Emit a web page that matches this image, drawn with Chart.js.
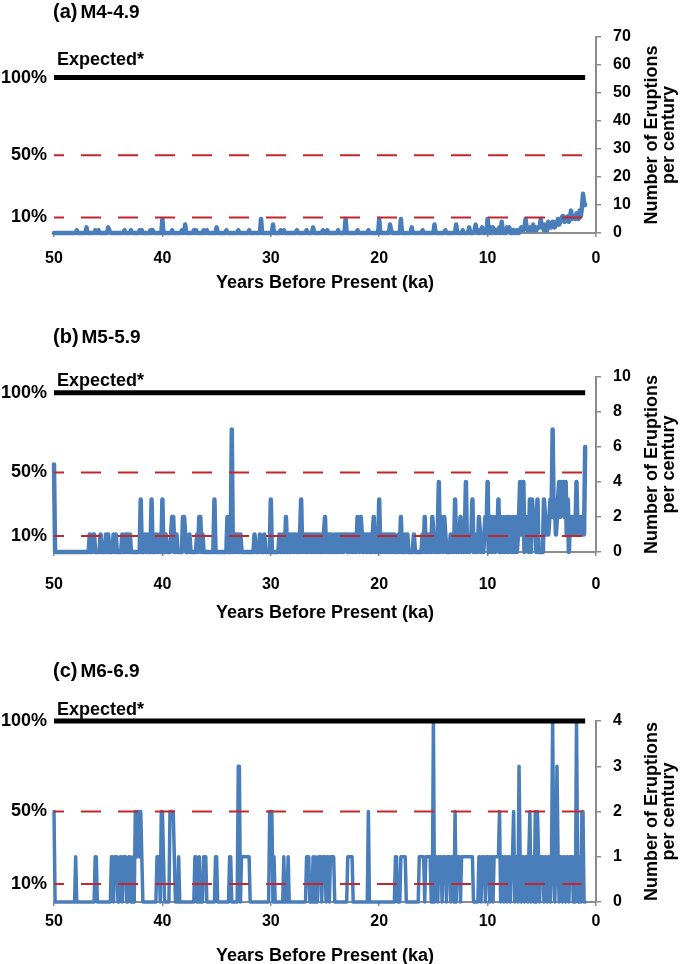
<!DOCTYPE html>
<html>
<head>
<meta charset="utf-8">
<script src="https://cdn.jsdelivr.net/npm/chart.js@4/dist/chart.umd.min.js"></script>
<style>
html,body{margin:0;padding:0;background:#fff;overflow:hidden;width:685px;height:964px;}
.panel{position:absolute;left:0;width:685px;overflow:hidden;}
canvas{display:block;}
</style>
</head>
<body>
<div class="panel" style="top:0;height:300px"><canvas id="cA" width="685" height="300"></canvas></div>
<div class="panel" style="top:300px;height:330px"><canvas id="cB" width="685" height="330"></canvas></div>
<div class="panel" style="top:630px;height:334px"><canvas id="cC" width="685" height="340"></canvas></div>
<script>
// ---- data (one value per century, from 50.0 ka down to 1.0 ka) ----
const KA_START = 50;
const KA_STEP = 0.1;
const xTicks = [50, 40, 30, 20, 10, 0];
const pctFractions = [0.1, 0.5, 1];
const pctLabels = ['10%', '50%', '100%'];
const panelLetters = ['(a)', '(b)', '(c)'];
const magnitudeClasses = ['M4-4.9', 'M5-5.9', 'M6-6.9'];
const expectedRates = [55.5, 9.1, 4];
const rightAxisMax = [70, 10, 4];
const rightAxisStep = [10, 2, 1];

const eruptionsM4 = [
/*50*/ 0,0,0,0,0,0,0,0,0,0,
/*49*/ 0,0,0,0,0,0,0,0,0,0,
/*48*/ 0,1,0,0,0,0,0,0,0,0,
/*47*/ 2,0,0,0,0,0,0,0,1,0,
/*46*/ 0,1,0,0,0,0,0,0,0,0,
/*45*/ 2,1,0,0,0,0,0,0,0,0,
/*44*/ 0,0,0,0,0,1,0,0,0,0,
/*43*/ 0,1,0,0,0,0,0,0,0,1,
/*42*/ 0,1,0,0,0,0,0,0,0,1,
/*41*/ 0,1,0,0,0,0,0,0,0,0,
/*40*/ 5,0,0,0,0,0,0,0,0,1,
/*39*/ 0,0,0,0,0,0,0,0,1,0,
/*38*/ 0,3,0,0,0,0,0,0,0,1,
/*37*/ 0,1,0,0,0,0,0,0,1,0,
/*36*/ 0,1,0,0,0,0,0,0,0,0,
/*35*/ 2,0,0,0,0,0,0,0,0,1,
/*34*/ 0,0,0,0,0,0,0,0,0,0,
/*33*/ 1,0,0,0,0,0,0,0,0,0,
/*32*/ 1,0,0,0,0,0,0,0,0,0,
/*31*/ 0,5,0,0,0,0,0,0,0,0,
/*30*/ 0,0,3,0,0,0,0,0,0,1,
/*29*/ 0,0,1,0,0,0,0,0,0,0,
/*28*/ 0,0,0,0,1,0,0,0,0,0,
/*27*/ 0,0,0,1,0,0,0,0,0,2,
/*26*/ 0,0,0,0,0,0,0,0,1,0,
/*25*/ 0,0,1,0,0,0,0,0,0,0,
/*24*/ 0,0,1,0,0,0,0,0,0,5,
/*23*/ 0,0,0,0,0,0,0,0,0,0,
/*22*/ 1,0,0,0,0,0,0,0,0,0,
/*21*/ 1,0,0,0,0,0,0,0,0,0,
/*20*/ 5,0,0,0,0,0,0,0,0,0,
/*19*/ 3,1,0,0,0,0,0,0,0,0,
/*18*/ 5,0,0,0,0,0,0,0,0,0,
/*17*/ 2,0,0,0,0,0,0,0,0,0,
/*16*/ 1,0,0,0,0,0,0,0,0,0,
/*15*/ 0,3,0,0,0,0,0,0,0,0,
/*14*/ 0,1,0,0,0,0,0,0,0,0,
/*13*/ 0,3,0,0,0,0,0,1,0,0,
/*12*/ 0,0,0,2,0,0,0,0,1,3,
/*11*/ 0,1,0,0,1,2,0,0,1,0,
/*10*/ 5,1,0,2,0,2,1,0,1,0,
/* 9*/ 1,2,0,4,1,0,1,0,2,1,
/* 8*/ 2,0,1,0,1,0,0,1,0,0,
/* 7*/ 1,2,1,1,2,5,2,1,2,1,
/* 6*/ 2,1,3,1,2,1,2,2,2,5,
/* 5*/ 2,3,1,3,2,1,4,2,3,2,
/* 4*/ 4,3,2,4,3,5,3,4,5,6,
/* 3*/ 6,4,5,5,6,4,6,8,5,6,
/* 2*/ 6,5,7,6,5,8,6,9,14,11,
/* 1*/ 10
];

const eruptionsM5 = [
/*50*/ 5,0,0,0,0,0,0,0,0,0,
/*49*/ 0,0,0,0,0,0,0,0,0,0,
/*48*/ 0,0,0,0,0,0,0,0,0,0,
/*47*/ 0,0,0,1,0,0,1,1,0,0,
/*46*/ 0,0,0,1,0,0,0,0,1,0,
/*45*/ 1,0,0,0,0,1,0,1,0,0,
/*44*/ 0,0,0,1,0,0,1,0,1,0,
/*43*/ 1,0,0,0,0,0,0,0,0,0,
/*42*/ 3,0,0,0,1,0,1,0,0,0,
/*41*/ 3,0,0,0,1,0,0,1,0,0,
/*40*/ 3,0,0,1,0,0,0,0,1,2,
/*39*/ 2,0,0,1,0,0,0,0,0,2,
/*38*/ 2,1,0,0,0,1,0,0,0,0,
/*37*/ 0,0,1,0,2,2,0,1,0,0,
/*36*/ 0,0,0,0,0,0,0,0,3,0,
/*35*/ 0,0,0,0,0,0,0,0,0,0,
/*34*/ 2,0,0,0,7,0,0,1,1,0,
/*33*/ 1,0,1,0,0,0,0,0,0,0,
/*32*/ 0,0,0,0,0,1,0,0,0,0,
/*31*/ 1,0,0,0,1,0,0,0,0,0,
/*30*/ 3,0,0,0,0,0,0,0,1,0,
/*29*/ 0,1,0,0,2,0,0,1,0,1,
/*28*/ 1,0,1,1,0,1,0,1,3,0,
/*27*/ 1,1,0,1,0,1,1,0,1,0,
/*26*/ 1,0,1,0,1,0,0,1,0,1,
/*25*/ 2,0,1,0,1,0,1,0,0,1,
/*24*/ 0,1,0,1,1,0,1,0,1,1,
/*23*/ 1,0,1,1,0,1,0,1,1,0,
/*22*/ 2,1,0,2,1,0,1,1,0,1,
/*21*/ 1,0,1,0,1,2,0,1,1,0,
/*20*/ 3,0,1,0,1,1,0,1,0,1,
/*19*/ 1,0,1,0,1,0,0,0,1,0,
/*18*/ 2,0,0,0,1,0,1,0,0,0,
/*17*/ 0,0,1,0,0,0,0,0,0,0,
/*16*/ 1,0,2,0,1,0,1,1,0,2,
/*15*/ 1,0,1,0,1,4,0,2,1,0,
/*14*/ 2,1,0,0,0,0,1,0,1,0,
/*13*/ 3,0,1,0,1,2,0,1,0,1,
/*12*/ 4,0,1,0,1,1,3,0,1,0,
/*11*/ 1,0,2,1,0,1,0,1,2,1,
/*10*/ 4,0,1,2,0,2,1,0,2,1,
/* 9*/ 3,0,2,0,1,2,0,1,2,0,
/* 8*/ 2,1,0,2,0,1,2,0,1,2,
/* 7*/ 4,1,2,4,0,2,1,2,0,3,
/* 6*/ 0,3,2,1,2,0,3,0,0,0,
/* 5*/ 0,0,3,2,1,2,1,2,3,2,
/* 4*/ 7,2,3,1,2,3,4,2,4,3,
/* 3*/ 4,2,4,1,3,0,2,1,2,1,
/* 2*/ 2,1,4,1,2,1,2,1,2,1,
/* 1*/ 6
];

const eruptionsM6 = [
/*50*/ 2,0,0,0,0,0,0,0,0,0,
/*49*/ 0,0,0,0,0,0,0,0,0,0,
/*48*/ 1,0,0,0,0,0,0,0,0,0,
/*47*/ 0,0,0,0,0,0,0,0,1,1,
/*46*/ 0,0,0,0,0,0,0,0,0,0,
/*45*/ 0,0,0,1,1,0,1,1,1,0,
/*44*/ 0,1,1,0,1,1,1,0,0,1,
/*43*/ 1,0,0,1,0,2,2,1,2,1,
/*42*/ 2,1,0,0,0,0,0,0,0,0,
/*41*/ 0,0,0,0,0,1,1,1,0,2,
/*40*/ 2,1,0,0,0,0,0,2,2,2,
/*39*/ 2,1,0,0,0,1,0,0,0,0,
/*38*/ 0,0,0,0,0,0,0,0,0,0,
/*37*/ 1,1,0,0,1,0,0,0,1,1,
/*36*/ 1,0,0,0,0,0,0,0,0,1,
/*35*/ 1,0,0,0,0,0,0,0,0,0,
/*34*/ 0,0,1,1,0,0,0,0,0,0,
/*33*/ 3,3,0,1,1,1,1,1,1,1,
/*32*/ 1,0,0,0,0,0,0,0,0,0,
/*31*/ 0,0,0,0,0,0,0,0,0,2,
/*30*/ 2,2,0,1,0,0,0,0,0,0,
/*29*/ 0,0,1,0,0,0,1,0,0,0,
/*28*/ 0,0,0,0,0,0,0,0,0,0,
/*27*/ 0,0,0,1,1,1,0,0,0,1,
/*26*/ 0,1,0,0,1,1,1,0,1,1,
/*25*/ 1,0,1,1,0,1,1,1,1,0,
/*24*/ 0,0,0,0,0,0,0,0,0,0,
/*23*/ 0,1,1,1,1,1,0,0,0,0,
/*22*/ 0,0,0,0,0,0,0,0,0,0,
/*21*/ 2,0,0,0,0,0,0,0,0,0,
/*20*/ 0,0,0,0,0,0,0,0,0,0,
/*19*/ 0,0,0,0,0,1,1,0,0,0,
/*18*/ 1,1,1,1,1,0,0,0,0,0,
/*17*/ 0,0,0,0,0,0,0,1,1,1,
/*16*/ 1,1,0,1,1,1,1,1,0,0,
/*15*/ 4,0,1,1,0,1,1,1,0,1,
/*14*/ 1,1,0,1,1,1,0,1,1,0,
/*13*/ 2,0,1,1,1,0,1,1,1,1,
/*12*/ 1,1,1,1,1,1,1,0,0,0,
/*11*/ 0,0,1,1,0,1,1,1,0,1,
/*10*/ 1,1,0,1,1,0,1,1,1,1,
/* 9*/ 1,2,0,1,1,0,1,1,0,1,
/* 8*/ 1,0,1,1,2,0,1,1,0,3,
/* 7*/ 1,0,1,1,0,1,1,0,1,2,
/* 6*/ 0,1,1,0,2,0,2,1,0,1,
/* 5*/ 1,1,0,1,1,0,1,1,0,1,
/* 4*/ 4,1,0,1,3,1,0,1,1,0,
/* 3*/ 1,1,0,1,1,0,1,1,1,0,
/* 2*/ 1,0,4,1,0,1,0,2,2,0,
/* 1*/ 0
];

// ---- styling / layout ----
const FONT = '"Liberation Sans", Arial, Helvetica, sans-serif';
const BLUE = '#4a7ebb';
const RED = '#c1272d';
const GRAY = '#8c8c8c';
Chart.defaults.font.family = FONT;
Chart.defaults.color = '#000';

const layouts = [
  {canvas:'cA', top:37, xH:67, xPad:12, titlePad:6, lw:4.5, titleBase:18, expOff:-13},
  {canvas:'cB', top:77, xH:78, xPad:19, titlePad:6, lw:4.5, titleBase:43, expOff:-7},
  {canvas:'cC', top:91, xH:68, xPad:6, titlePad:3, lw:3.5, titleBase:47, expOff:-6}
];

const panelText = {
  id: 'panelText',
  afterDraw(chart, args, o) {
    const ctx = chart.ctx, ca = chart.chartArea, ys = chart.scales.y;
    ctx.save();
    ctx.fillStyle = '#000';
    ctx.textAlign = 'left';
    ctx.textBaseline = 'alphabetic';
    ctx.font = 'bold 20px ' + FONT;
    ctx.fillText(o.letter, 53, o.titleBase);
    const w = ctx.measureText(o.letter).width;
    ctx.font = 'bold 19px ' + FONT;
    ctx.fillText(o.mag, 53 + w + 3, o.titleBase);
    ctx.font = 'bold 18px ' + FONT;
    ctx.fillText('Expected*', 57, ys.getPixelForValue(o.expected) + o.expOff);
    const cy = (ca.top + ca.bottom) / 2;
    ctx.textAlign = 'center';
    ctx.textBaseline = 'middle';
    [['Number of Eruptions', 652.5], ['per century', 669]].forEach(([t, x]) => {
      ctx.save();
      ctx.translate(x, cy);
      ctx.rotate(-Math.PI / 2);
      ctx.fillText(t, 0, 0);
      ctx.restore();
    });
    ctx.restore();
  }
};

const seriesList = [eruptionsM4, eruptionsM5, eruptionsM6];

seriesList.forEach((values, k) => {
  const L = layouts[k];
  const E = expectedRates[k];
  const pts = values.map((v, i) => ({x: Math.round((KA_START - i * KA_STEP) * 10) / 10, y: v}));
  const xEnd = pts[pts.length - 1].x;
  const level = f => [{x: KA_START, y: E * f}, {x: xEnd, y: E * f}];
  new Chart(document.getElementById(L.canvas), {
    type: 'line',
    data: {
      datasets: [
        {data: level(1), borderColor: '#000', borderWidth: 5, yAxisID: 'y', clip: false},
        {data: level(0.5), borderColor: RED, borderWidth: 2, borderDash: [20, 17], borderDashOffset: 10, yAxisID: 'y'},
        {data: level(0.1), borderColor: RED, borderWidth: 2, borderDash: [20, 17], borderDashOffset: 10, yAxisID: 'y'},
        {data: pts, borderColor: BLUE, borderWidth: L.lw, borderJoinStyle: 'round', borderCapStyle: 'round', yAxisID: 'y', clip: 4}
      ]
    },
    options: {
      responsive: false,
      animation: false,
      events: [],
      elements: {point: {radius: 0}, line: {tension: 0}},
      layout: {padding: {top: L.top, left: 0, right: 0, bottom: 0}},
      plugins: {
        legend: {display: false},
        tooltip: {enabled: false},
        panelText: {letter: panelLetters[k], mag: magnitudeClasses[k], expected: E, titleBase: L.titleBase, expOff: L.expOff}
      },
      scales: {
        x: {
          type: 'linear', position: 'bottom', reverse: true, min: 0, max: 50,
          afterBuildTicks: s => { s.ticks = xTicks.map(v => ({value: v})); },
          ticks: {font: {size: 16, weight: 'bold'}, color: '#000', padding: L.xPad, maxRotation: 0, autoSkip: false},
          grid: {drawOnChartArea: false, tickLength: 4, color: GRAY, lineWidth: 1.5},
          border: {color: GRAY, width: 2},
          title: {display: true, text: 'Years Before Present (ka)', font: {size: 18, weight: 'bold'}, color: '#000', padding: {top: 0, bottom: L.titlePad}},
          afterFit: s => { s.height = L.xH; }
        },
        y: {
          type: 'linear', position: 'right', min: 0, max: rightAxisMax[k],
          ticks: {stepSize: rightAxisStep[k], font: {size: 16, weight: 'bold'}, color: '#000', padding: 12},
          grid: {drawOnChartArea: false, tickLength: 5, color: GRAY, lineWidth: 1.5},
          border: {color: GRAY, width: 2},
          afterFit: s => { s.width = 89; }
        },
        yL: {
          type: 'linear', position: 'left', min: 0, max: rightAxisMax[k],
          afterBuildTicks: s => { s.ticks = pctFractions.map(f => ({value: E * f})); },
          ticks: {font: {size: 18, weight: 'bold'}, color: '#000', padding: 7, autoSkip: false,
                  callback: (v, i) => pctLabels[i]},
          grid: {display: false, drawTicks: false},
          border: {display: false},
          afterFit: s => { s.width = 54; }
        }
      }
    },
    plugins: [panelText]
  });
});
</script>
</body>
</html>
